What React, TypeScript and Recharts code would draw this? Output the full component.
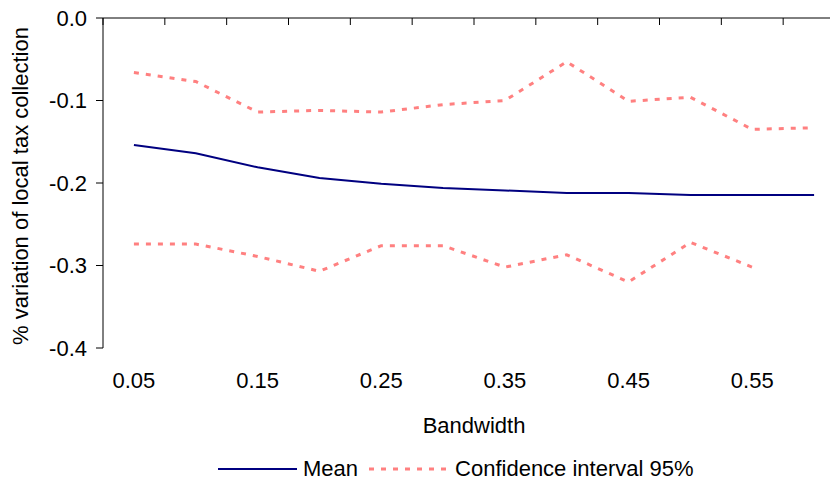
import React from 'react';
import { LineChart, Line, XAxis, YAxis, Label } from 'recharts';

const bandwidths = [0.05, 0.1, 0.15, 0.2, 0.25, 0.3, 0.35, 0.4, 0.45, 0.5, 0.55, 0.6];
const meanVals = [-0.154, -0.164, -0.181, -0.194, -0.201, -0.206, -0.209, -0.212, -0.212, -0.2145, -0.2145, -0.2145];
const upperVals = [-0.066, -0.077, -0.114, -0.112, -0.114, -0.105, -0.1, -0.053, -0.101, -0.096, -0.135, -0.133];
const lowerVals = [-0.274, -0.274, -0.289, -0.307, -0.276, -0.276, -0.302, -0.287, -0.32, -0.272, -0.302, null];

const xLabelTicks = [0.05, 0.15, 0.25, 0.35, 0.45, 0.55];
const yTicks = [0, -0.1, -0.2, -0.3, -0.4];

const FONT = '"Liberation Sans", Arial, sans-serif';
const MEAN_COLOR = '#000080';
const CI_COLOR = '#ff8080';

const data = bandwidths.map((bw, i) => ({
  bw,
  mean: meanVals[i],
  upper: upperVals[i],
  lower: lowerVals[i],
}));

// category boundaries, where Excel puts the tick marks
const step = 0.05;
const boundaries = [...bandwidths.map((b) => b - step / 2), bandwidths[bandwidths.length - 1] + step / 2].map(
  (v) => Math.round(v * 1000) / 1000
);
const xDomain = [boundaries[0], boundaries[boundaries.length - 1]];

const tickStyle = { fontFamily: FONT, fontSize: 22, fill: '#000' };

const YTitle = () => (
  <text
    x={20}
    y={186}
    transform="rotate(-90, 20, 186)"
    textAnchor="middle"
    dominantBaseline="central"
    style={{ fontFamily: FONT, fontSize: 22, fill: '#000' }}
  >
    % variation of local tax collection
  </text>
);

const NoTick = () => <g />;

const App: React.FC = () => {
  return (
    <div style={{ margin: -8, width: 838, height: 485, overflow: 'hidden', position: 'relative', background: '#fff' }}>
      <LineChart width={860} height={485} data={data} margin={{ top: 17, right: 15, bottom: 107, left: 0 }}>
        <XAxis
          dataKey="bw"
          type="number"
          domain={xDomain}
          ticks={xLabelTicks}
          tickFormatter={(v: number) => v.toFixed(2)}
          axisLine={false}
          tickLine={false}
          tickMargin={18}
          height={30}
          tick={tickStyle}
          interval={0}
        >
          <Label value="Bandwidth" position="bottom" offset={39} style={{ fontFamily: FONT, fontSize: 22, fill: '#000' }} />
        </XAxis>
        <XAxis
          xAxisId="top"
          dataKey="bw"
          type="number"
          orientation="top"
          domain={xDomain}
          ticks={boundaries}
          height={1}
          tick={NoTick}
          tickSize={-7}
          interval={0}
          axisLine={{ stroke: '#000' }}
          tickLine={{ stroke: '#000' }}
        />
        <YAxis
          type="number"
          domain={[-0.4, 0]}
          ticks={yTicks}
          tickFormatter={(v: number) => (v === 0 ? '0.0' : v.toFixed(1))}
          width={103}
          tickSize={7}
          tickMargin={9}
          tick={tickStyle}
          axisLine={{ stroke: '#000' }}
          tickLine={{ stroke: '#000' }}
          interval={0}
          label={<YTitle />}
        />
        <Line
          type="linear"
          dataKey="mean"
          stroke={MEAN_COLOR}
          strokeWidth={2}
          dot={false}
          isAnimationActive={false}
        />
        <Line
          type="linear"
          dataKey="upper"
          stroke={CI_COLOR}
          strokeWidth={3}
          strokeDasharray="5 7"
          dot={false}
          isAnimationActive={false}
        />
        <Line
          type="linear"
          dataKey="lower"
          stroke={CI_COLOR}
          strokeWidth={3}
          strokeDasharray="5 7"
          dot={false}
          isAnimationActive={false}
        />
      </LineChart>
      <div
        style={{
          position: 'absolute',
          left: 218,
          top: 455,
          display: 'flex',
          alignItems: 'center',
          fontFamily: FONT,
          fontSize: 22,
          color: '#000',
          whiteSpace: 'nowrap',
          lineHeight: '28px',
        }}
      >
        <svg width={79} height={10}>
          <line x1={0} y1={5} x2={79} y2={5} stroke={MEAN_COLOR} strokeWidth={2} />
        </svg>
        <span style={{ marginLeft: 6 }}>Mean</span>
        <svg width={79} height={10} style={{ marginLeft: 11 }}>
          <line x1={0} y1={5} x2={79} y2={5} stroke={CI_COLOR} strokeWidth={3} strokeDasharray="5 7" />
        </svg>
        <span style={{ marginLeft: 7 }}>Confidence interval 95%</span>
      </div>
    </div>
  );
};

export default App;
